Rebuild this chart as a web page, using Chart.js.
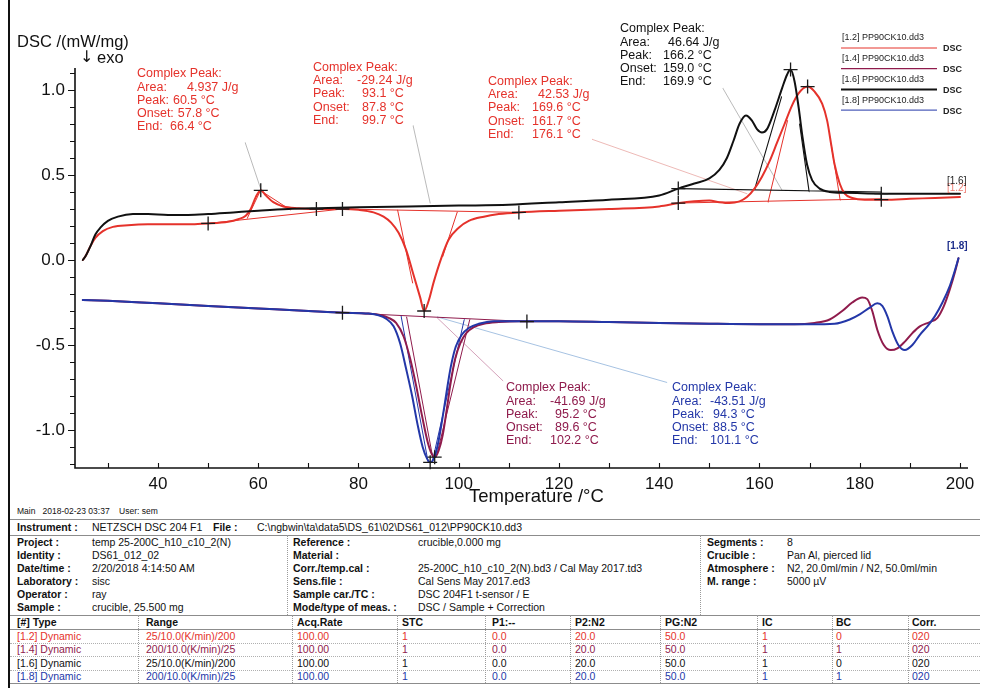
<!DOCTYPE html>
<html>
<head>
<meta charset="utf-8">
<title>DSC PP90CK10</title>
<script src="https://cdn.jsdelivr.net/npm/chart.js@4.4.1/dist/chart.umd.min.js"></script>
<style>
html, body { margin: 0; padding: 0; background: #fff; }
#page { position: relative; width: 985px; height: 688px; overflow: hidden; background: #fff;
        font-family: "Liberation Sans", Arial, sans-serif; }
#plot { position: absolute; left: 0; top: 0; }
.t { position: absolute; white-space: pre; line-height: 13px; font-size: 10.5px; color: #111; }
.b { font-weight: bold; }
.hl { position: absolute; height: 0; border-top: 1px solid #8c8c8c; }
.hd { position: absolute; height: 0; border-top: 1px dotted #b0b0b0; }
.vl { position: absolute; width: 0; border-left: 1px dotted #9a9a9a; }
.frame { position: absolute; top: 0; bottom: 0; width: 0; border-left: 2px solid #111; }
</style>
</head>
<body>
<div id="page">
  <canvas id="plot" width="985" height="505"></canvas>
</div>
<script>
// ---- DSC runs (temperature in °C, DSC signal in mW/mg) ----
// [1.2] first heating
const heat1T = [25.0, 25.5, 26.5, 27.5, 29, 31, 34, 38, 45, 50, 54, 56, 57.5, 58.5, 59.5, 60.5, 61.5, 63, 65, 68, 72, 77, 80, 83, 85, 86.5, 88, 89.5, 91, 92.3, 93.1, 94, 95, 96.5, 98, 100, 102, 105, 108, 112, 120, 130, 140, 144, 147, 150, 152, 154, 156, 157.5, 159, 160.5, 162, 163.5, 165, 166.5, 167.8, 169.6, 171, 172.5, 173.5, 174.3, 175, 176, 177, 178.5, 181, 185, 190, 195, 200];
const heat1  = [0.00, 0.02, 0.08, 0.13, 0.17, 0.195, 0.205, 0.21, 0.21, 0.215, 0.225, 0.24, 0.26, 0.30, 0.37, 0.41, 0.38, 0.34, 0.315, 0.305, 0.30, 0.30, 0.295, 0.28, 0.255, 0.22, 0.16, 0.06, -0.09, -0.22, -0.30, -0.24, -0.13, 0.01, 0.12, 0.19, 0.23, 0.255, 0.27, 0.28, 0.29, 0.30, 0.315, 0.335, 0.345, 0.35, 0.34, 0.335, 0.345, 0.37, 0.42, 0.49, 0.58, 0.69, 0.80, 0.91, 0.98, 1.02, 0.99, 0.92, 0.82, 0.68, 0.56, 0.45, 0.39, 0.365, 0.355, 0.355, 0.36, 0.365, 0.37];
// [1.6] second heating
const heat2T = [25.0, 25.5, 26.5, 27.5, 28.5, 30, 32, 35, 38, 42, 46, 50, 55, 60, 66, 72, 80, 90, 100, 110, 120, 130, 140, 143.8, 147, 150, 152, 153.5, 154.8, 156, 157.3, 158.5, 159.5, 160.5, 161.5, 163, 164.5, 165.5, 166.2, 167, 167.8, 168.6, 169.5, 170.5, 172, 174, 177, 185, 195, 200];
const heat2  = [0.00, 0.02, 0.08, 0.15, 0.19, 0.23, 0.255, 0.27, 0.27, 0.265, 0.265, 0.27, 0.28, 0.29, 0.30, 0.305, 0.31, 0.315, 0.32, 0.325, 0.34, 0.355, 0.38, 0.42, 0.45, 0.48, 0.53, 0.60, 0.70, 0.80, 0.85, 0.82, 0.77, 0.75, 0.77, 0.88, 1.01, 1.09, 1.12, 1.05, 0.90, 0.72, 0.56, 0.47, 0.42, 0.40, 0.395, 0.39, 0.39, 0.39];
// [1.4] first cooling
const cool1T = [25, 30, 40, 50, 60, 70, 77, 82, 84.5, 86, 87.5, 89, 90.3, 91.5, 92.7, 93.8, 94.6, 95.2, 96, 96.8, 97.6, 98.4, 99.3, 100.3, 101.5, 103, 105, 108, 112, 120, 130, 140, 150, 160, 167, 171, 174, 176.5, 178.5, 180.5, 181.5, 182.5, 183.5, 184.8, 186.2, 187.5, 189, 190.5, 192, 194, 195.5, 196.8, 198, 199, 199.7];
const cool1  = [-0.235, -0.24, -0.255, -0.27, -0.285, -0.30, -0.31, -0.315, -0.325, -0.34, -0.37, -0.45, -0.58, -0.74, -0.92, -1.07, -1.14, -1.16, -1.12, -1.03, -0.88, -0.72, -0.58, -0.49, -0.43, -0.395, -0.375, -0.365, -0.36, -0.36, -0.365, -0.37, -0.375, -0.378, -0.378, -0.37, -0.35, -0.30, -0.25, -0.22, -0.23, -0.30, -0.41, -0.50, -0.53, -0.52, -0.48, -0.43, -0.39, -0.365, -0.34, -0.27, -0.17, -0.07, 0.01];
// [1.8] second cooling
const cool2T = [25, 30, 40, 50, 60, 70, 77, 82, 84, 85.5, 87, 88.3, 89.5, 90.7, 91.8, 92.8, 93.7, 94.3, 95, 95.8, 96.7, 97.5, 98.4, 99.4, 100.6, 102, 104, 107, 112, 120, 130, 140, 150, 160, 170, 175, 178, 180, 182, 183.5, 184.5, 185.5, 186.5, 187.7, 189, 190.5, 192, 193.5, 195, 196.5, 198, 199, 199.7];
const cool2  = [-0.235, -0.24, -0.255, -0.27, -0.285, -0.30, -0.31, -0.315, -0.325, -0.345, -0.39, -0.49, -0.64, -0.80, -0.97, -1.10, -1.17, -1.19, -1.17, -1.09, -0.94, -0.79, -0.63, -0.51, -0.44, -0.40, -0.375, -0.36, -0.36, -0.36, -0.365, -0.37, -0.375, -0.378, -0.378, -0.375, -0.35, -0.32, -0.28, -0.255, -0.27, -0.33, -0.42, -0.50, -0.53, -0.50, -0.44, -0.39, -0.33, -0.25, -0.15, -0.06, 0.01];

// ---- peak evaluation: baselines and tangents [T1, y1, T2, y2] ----
const heat1Construction = [
  [50, 0.215, 76.8, 0.30],
  [57.8, 0.245, 60.3, 0.40],
  [66.4, 0.295, 60.9, 0.40],
  [76.8, 0.30, 112, 0.28],
  [87.8, 0.294, 90.8, -0.135],
  [99.7, 0.282, 96.8, 0.02],
  [143.8, 0.335, 184.3, 0.36],
  [161.7, 0.34, 165.6, 0.82],
  [176.1, 0.352, 174.3, 0.68]
];
const heat2Construction = [
  [143.8, 0.42, 184.3, 0.40],
  [159.0, 0.413, 164.4, 0.96],
  [169.9, 0.402, 168.0, 0.80]
];
const cool1Construction = [
  [76.8, -0.31, 113.6, -0.362],
  [89.6, -0.335, 94.8, -1.16],
  [102.2, -0.35, 95.5, -1.16]
];
const cool2Construction = [
  [88.5, -0.33, 93.9, -1.19],
  [101.1, -0.35, 94.7, -1.19]
];

// ---- evaluation markers ----
const heat1Marks = [[50, 0.215], [60.5, 0.41], [71.6, 0.30], [76.8, 0.30], [93.1, -0.30], [112, 0.28], [143.8, 0.335], [169.6, 1.02], [184.3, 0.355]];
const heat2Marks = [[143.8, 0.42], [166.2, 1.12], [184.3, 0.39]];
const coolMarks  = [[76.8, -0.31], [113.6, -0.362], [95.2, -1.16], [94.3, -1.19]];

// ---- leader lines from result boxes to the peaks ----
const leaderHeat1a = [57.4, 0.69, 60.7, 0.40];
const leaderHeat1b = [90.9, 0.79, 94.3, 0.335];
const leaderHeat1c = [126.6, 0.71, 157.5, 0.39];
const leaderHeat2  = [152.7, 1.01, 164.5, 0.41];
const leaderCool1  = [95.7, -0.34, 108.8, -0.71];
const leaderCool2  = [95.7, -0.335, 141.5, -0.72];

// ---- peak results ----
const resultHeat1a = ['Complex Peak:', 'Area:', '4.937 J/g', 'Peak:', '60.5 °C', 'Onset:', '57.8 °C', 'End:', '66.4 °C'];
const resultHeat1b = ['Complex Peak:', 'Area:', '-29.24 J/g', 'Peak:', '93.1 °C', 'Onset:', '87.8 °C', 'End:', '99.7 °C'];
const resultHeat1c = ['Complex Peak:', 'Area:', '42.53 J/g', 'Peak:', '169.6 °C', 'Onset:', '161.7 °C', 'End:', '176.1 °C'];
const resultHeat2  = ['Complex Peak:', 'Area:', '46.64 J/g', 'Peak:', '166.2 °C', 'Onset:', '159.0 °C', 'End:', '169.9 °C'];
const resultCool1  = ['Complex Peak:', 'Area:', '-41.69 J/g', 'Peak:', '95.2 °C', 'Onset:', '89.6 °C', 'End:', '102.2 °C'];
const resultCool2  = ['Complex Peak:', 'Area:', '-43.51 J/g', 'Peak:', '94.3 °C', 'Onset:', '88.5 °C', 'End:', '101.1 °C'];

// ---- axes ----
const xTickStep = 20;
const yTickStep = 0.5;
const legendNames = ['[1.2] PP90CK10.dd3', '[1.4] PP90CK10.dd3', '[1.6] PP90CK10.dd3', '[1.8] PP90CK10.dd3'];

// ---- measurement sheet ----
const infoLeft = [['Project :', 'temp 25-200C_h10_c10_2(N)'], ['Identity :', 'DS61_012_02'], ['Date/time :', '2/20/2018 4:14:50 AM'], ['Laboratory :', 'sisc'], ['Operator :', 'ray'], ['Sample :', 'crucible, 25.500 mg']];
const infoMid = [['Reference :', 'crucible,0.000 mg'], ['Material :', ''], ['Corr./temp.cal :', '25-200C_h10_c10_2(N).bd3 / Cal May 2017.td3'], ['Sens.file :', 'Cal Sens May 2017.ed3'], ['Sample car./TC :', 'DSC 204F1 t-sensor / E'], ['Mode/type of meas. :', 'DSC / Sample + Correction']];
const infoRight = [['Segments :', '8'], ['Crucible :', 'Pan Al, pierced lid'], ['Atmosphere :', 'N2, 20.0ml/min / N2, 50.0ml/min'], ['M. range :', '5000 µV']];
const segHeader = ['[#] Type', 'Range', 'Acq.Rate', 'STC', 'P1:--', 'P2:N2', 'PG:N2', 'IC', 'BC', 'Corr.'];
const segRows = [
  ['[1.2] Dynamic', '25/10.0(K/min)/200', '100.00', '1', '0.0', '20.0', '50.0', '1', '0', '020'],
  ['[1.4] Dynamic', '200/10.0(K/min)/25', '100.00', '1', '0.0', '20.0', '50.0', '1', '1', '020'],
  ['[1.6] Dynamic', '25/10.0(K/min)/200', '100.00', '1', '0.0', '20.0', '50.0', '1', '0', '020'],
  ['[1.8] Dynamic', '200/10.0(K/min)/25', '100.00', '1', '0.0', '20.0', '50.0', '1', '1', '020']
];

// ================= drawing =================
const RED = '#e5322b', MAROON = '#8f1b4c', BLACK = '#111111', BLUE = '#2337a8';
const FONT = '"Liberation Sans", Arial, sans-serif';

const pts = (T, V) => T.map((t, i) => ({ x: t, y: V[i] }));
const segs = list => {
  const out = [];
  list.forEach(s => { out.push({ x: s[0], y: s[1] }, { x: s[2], y: s[3] }, { x: (s[0] + s[2]) / 2, y: null }); });
  return out;
};
const marks = list => list.map(p => ({ x: p[0], y: p[1] }));

function curve(label, data, color, order) {
  return { label, data, borderColor: color, borderWidth: 2, pointRadius: 0, showLine: true,
           cubicInterpolationMode: 'monotone', fill: false, order, clip: false };
}
function thin(label, data, color, width, order) {
  return { label, data, borderColor: color, borderWidth: width, pointRadius: 0, showLine: true,
           spanGaps: false, tension: 0, fill: false, order, clip: false };
}
function crosses(label, data, order) {
  return { label, data, showLine: false, pointStyle: 'cross', pointRadius: 7, pointBorderWidth: 1.3,
           pointBorderColor: '#1a1a1a', pointBackgroundColor: '#1a1a1a', order, clip: false };
}

const datasets = [
  thin('leaders', segs([leaderHeat1a, leaderHeat1b, leaderHeat2]), '#a8a8a8', 0.8, 30),
  thin('leader-heat', segs([leaderHeat1c]), '#e9a7a3', 0.8, 30),
  thin('leader-cool1', segs([leaderCool1]), '#c98aa8', 0.8, 30),
  thin('leader-cool2', segs([leaderCool2]), '#8fb2da', 0.8, 30),
  thin('eval-1.2', segs(heat1Construction), RED, 1, 20),
  thin('eval-1.6', segs(heat2Construction), BLACK, 1.1, 19),
  thin('eval-1.4', segs(cool1Construction), MAROON, 1, 18),
  thin('eval-1.8', segs(cool2Construction), BLUE, 1, 17),
  curve('[1.4]', pts(cool1T, cool1), MAROON, 9),
  curve('[1.8]', pts(cool2T, cool2), BLUE, 8),
  curve('[1.2]', pts(heat1T, heat1), RED, 7),
  curve('[1.6]', pts(heat2T, heat2), BLACK, 6),
  crosses('marks-1.2', marks(heat1Marks), 1),
  crosses('marks-1.6', marks(heat2Marks), 1),
  crosses('marks-cool', marks(coolMarks), 1)
];

// texts, legend, axis lines and fine ticks
const decor = {
  id: 'decor',
  afterDraw(chart) {
    const { ctx, chartArea: a, scales: { x, y } } = chart;
    ctx.save();
    // axis lines
    ctx.strokeStyle = '#111';
    ctx.lineWidth = 1.6;
    ctx.beginPath();
    ctx.moveTo(a.left, a.top); ctx.lineTo(a.left, a.bottom); ctx.lineTo(a.right, a.bottom);
    ctx.stroke();
    // tick marks
    ctx.lineWidth = 1.1;
    ctx.beginPath();
    for (let v = -12; v <= 11; v++) {
      const py = Math.round(y.getPixelForValue(v / 10)) + 0.5;
      const len = (v % 5 === 0) ? 7 : 5;
      ctx.moveTo(a.left - len, py); ctx.lineTo(a.left, py);
    }
    for (let t = 30; t <= 200; t += 10) {
      const px = Math.round(x.getPixelForValue(t)) + 0.5;
      ctx.moveTo(px, a.bottom); ctx.lineTo(px, a.bottom - 5);
    }
    ctx.stroke();

    // axis titles
    ctx.fillStyle = '#111';
    ctx.textBaseline = 'middle';
    ctx.textAlign = 'left';
    ctx.font = '16.5px ' + FONT;
    ctx.fillText('DSC /(mW/mg)', 17, 42);
    ctx.font = '16px "DejaVu Sans", ' + FONT;
    ctx.fillText('↓', 80, 58);
    ctx.font = '16.5px ' + FONT;
    ctx.fillText('exo', 97, 58);
    ctx.textAlign = 'center';
    ctx.font = '18.5px ' + FONT;
    ctx.fillText('Temperature /°C', x.getPixelForValue(115.5), 497);

    // result boxes
    const box = (lines, color, x0, y0, vx) => {
      ctx.fillStyle = color;
      ctx.textAlign = 'left';
      ctx.font = '12.5px ' + FONT;
      const dy = 13.2;
      ctx.fillText(lines[0], x0, y0);
      for (let i = 0; i < 4; i++) {
        const lab = lines[1 + i * 2];
        const lw = ctx.measureText(lab).width;
        ctx.fillText(lab, x0, y0 + dy * (i + 1));
        ctx.fillText(lines[2 + i * 2], Math.max(vx[i], x0 + lw + 4), y0 + dy * (i + 1));
      }
    };
    box(resultHeat1a, RED, 137, 74, [187, 167, 167, 170]);
    box(resultHeat1b, RED, 313, 67.5, [357, 362, 362, 362]);
    box(resultHeat1c, RED, 488, 81.5, [538, 532, 532, 532]);
    box(resultHeat2, BLACK, 620, 29, [668, 663, 663, 663]);
    box(resultCool1, MAROON, 506, 388, [550, 555, 555, 550]);
    box(resultCool2, BLUE, 672, 388, [710, 713, 713, 710]);

    // legend
    const legColors = [RED, MAROON, BLACK, BLUE];
    const legWidths = [1, 1.2, 2, 1];
    ctx.font = '9px ' + FONT;
    for (let i = 0; i < 4; i++) {
      const ty = 38 + i * 20.7;
      ctx.fillStyle = '#222';
      ctx.textAlign = 'left';
      ctx.fillText(legendNames[i], 842, ty);
      ctx.strokeStyle = legColors[i];
      ctx.lineWidth = legWidths[i];
      ctx.beginPath(); ctx.moveTo(841, ty + 10); ctx.lineTo(937, ty + 10); ctx.stroke();
      ctx.font = 'bold 9px ' + FONT;
      ctx.fillStyle = '#222';
      ctx.fillText('DSC', 943, ty + 11);
      ctx.font = '9px ' + FONT;
    }

    // curve end labels
    ctx.font = '10px ' + FONT;
    ctx.fillStyle = '#ee7a70';
    ctx.fillText('[1.2]', 947, 188);
    ctx.fillStyle = '#222';
    ctx.fillText('[1.6]', 947, 181);
    ctx.font = 'bold 10px ' + FONT;
    ctx.fillStyle = '#1e2f8c';
    ctx.fillText('[1.8]', 947, 246);
    ctx.restore();
  }
};

new Chart(document.getElementById('plot'), {
  type: 'scatter',
  data: { datasets },
  options: {
    responsive: false,
    animation: false,
    devicePixelRatio: 1,
    layout: { padding: { left: 0, right: 17, top: 68, bottom: 0 } },
    plugins: { legend: { display: false }, tooltip: { enabled: false } },
    elements: { line: { borderCapStyle: 'round', borderJoinStyle: 'round' } },
    scales: {
      x: {
        type: 'linear', min: 23.44, max: 201.6,
        afterFit: s => { s.height = 37; },
        grid: { display: false, drawTicks: false },
        border: { display: false },
        ticks: { stepSize: xTickStep, includeBounds: false, autoSkip: false, maxRotation: 0,
                 padding: 6, color: '#111', font: { family: FONT, size: 17 } }
      },
      y: {
        type: 'linear', min: -1.2235, max: 1.1294,
        afterFit: s => { s.width = 75; },
        grid: { display: false, drawTicks: false },
        border: { display: false },
        ticks: { stepSize: yTickStep, includeBounds: false, autoSkip: false, padding: 10,
                 color: '#111', font: { family: FONT, size: 17 },
                 callback: v => (Math.abs(v) < 1e-9 ? 0 : v).toFixed(1) }
      }
    }
  },
  plugins: [decor]
});

// ---- measurement sheet below the plot ----
const page = document.getElementById('page');
function text(x, yc, str, cls, color) {
  const d = document.createElement('div');
  d.className = 't' + (cls ? ' ' + cls : '');
  d.style.left = x + 'px';
  d.style.top = (yc - 6.5) + 'px';
  if (color) d.style.color = color;
  d.textContent = str;
  page.appendChild(d);
}
function line(cls, x, y, len) {
  const d = document.createElement('div');
  d.className = cls;
  d.style.left = x + 'px';
  d.style.top = y + 'px';
  if (cls === 'vl') d.style.height = len + 'px'; else d.style.width = len + 'px';
  page.appendChild(d);
}
const frame = document.createElement('div');
frame.className = 'frame';
frame.style.left = '8px';
page.appendChild(frame);

const small = document.createElement('div');
small.className = 't';
small.style.cssText = 'left:17px;top:506px;font-size:8.5px;line-height:11px;';
small.textContent = 'Main   2018-02-23 03:37    User: sem';
page.appendChild(small);

line('hl', 10, 519, 970);
line('hl', 10, 535, 970);
line('hl', 10, 615, 970);
line('hl', 10, 629, 970);
line('hl', 10, 683, 970);
[643, 656, 670].forEach(yy => line('hd', 10, yy, 970));
line('vl', 287, 535, 80);
line('vl', 700, 535, 80);
[138, 292, 397, 485, 570, 660, 757, 832, 908].forEach(xx => line('vl', xx, 615, 68));

text(17, 527, 'Instrument :', 'b');
text(92, 527, 'NETZSCH DSC 204 F1');
text(213, 527, 'File :', 'b');
text(257, 527, 'C:\\ngbwin\\ta\\data5\\DS_61\\02\\DS61_012\\PP90CK10.dd3');

const infoY = [542, 555, 568, 581, 594, 607.5];
infoLeft.forEach((r, i) => { text(17, infoY[i], r[0], 'b'); text(92, infoY[i], r[1]); });
infoMid.forEach((r, i) => { text(293, infoY[i], r[0], 'b'); text(418, infoY[i], r[1]); });
infoRight.forEach((r, i) => { text(707, infoY[i], r[0], 'b'); text(787, infoY[i], r[1]); });

const colX = [17, 146, 297, 402, 492, 575, 665, 762, 836, 912];
segHeader.forEach((h, j) => text(colX[j], 622, h, 'b'));
const rowColors = [RED, MAROON, BLACK, BLUE];
const rowY = [636, 649.5, 663, 676.5];
segRows.forEach((r, i) => r.forEach((c, j) => text(colX[j], rowY[i], c, '', rowColors[i])));
</script>
</body>
</html>
